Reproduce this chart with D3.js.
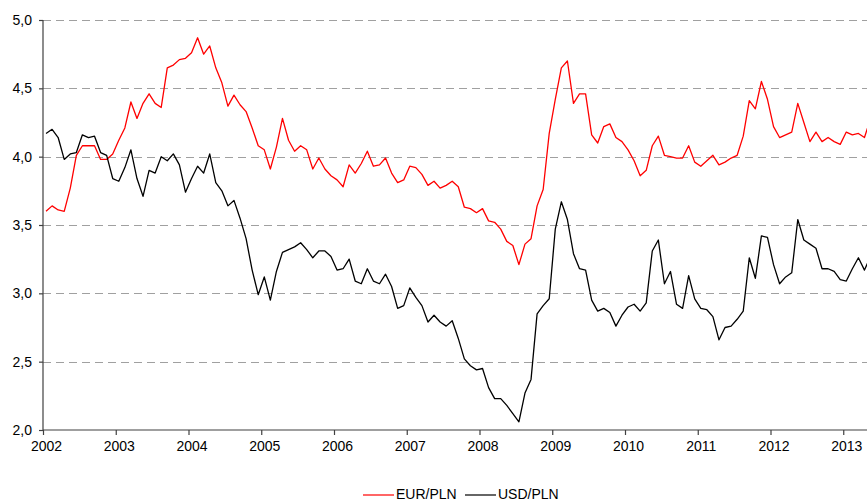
<!DOCTYPE html>
<html lang="pl">
<head>
<meta charset="UTF-8">
<title>EUR/PLN i USD/PLN</title>
<script src="https://d3js.org/d3.v7.min.js"></script>
<style>
    body { margin: 0; background: #fff; }
    svg { display: block; font-family: "Liberation Sans", Arial, sans-serif; }
    .tick text { font-size: 14px; fill: #000; }
</style>
</head>
<body>
<svg id="chart" width="867" height="502"></svg>
<script>
    // monthly averages, starting January 2002
    const startYear = 2002;
    const eurPln = [
        3.60, 3.64, 3.61, 3.60, 3.77, 4.01, 4.08, 4.08, 4.08, 3.98, 3.98, 4.02,
        4.12, 4.21, 4.40, 4.28, 4.39, 4.46, 4.39, 4.36, 4.65, 4.67, 4.71, 4.72,
        4.76, 4.87, 4.75, 4.81, 4.65, 4.54, 4.37, 4.45, 4.38, 4.33, 4.21, 4.08,
        4.05, 3.91, 4.07, 4.28, 4.12, 4.04, 4.08, 4.05, 3.91, 3.99, 3.91, 3.86,
        3.83, 3.78, 3.94, 3.88, 3.95, 4.04, 3.93, 3.94, 3.99, 3.88, 3.81, 3.83,
        3.93, 3.92, 3.87, 3.79, 3.82, 3.77, 3.79, 3.82, 3.78, 3.63, 3.62, 3.59,
        3.62, 3.53, 3.52, 3.47, 3.38, 3.35, 3.21, 3.36, 3.40, 3.64, 3.76, 4.17,
        4.42, 4.65, 4.70, 4.39, 4.46, 4.46, 4.16, 4.10, 4.22, 4.24, 4.14, 4.11,
        4.05, 3.97, 3.86, 3.90, 4.08, 4.15, 4.01, 4.00, 3.99, 3.99, 4.08, 3.96,
        3.93, 3.97, 4.01, 3.94, 3.96, 3.99, 4.01, 4.15, 4.41, 4.35, 4.55, 4.42,
        4.22, 4.14, 4.16, 4.18, 4.39, 4.25, 4.11, 4.18, 4.11, 4.14, 4.11, 4.09,
        4.18, 4.16, 4.17, 4.14, 4.28
    ];
    const usdPln = [
        4.17, 4.20, 4.14, 3.98, 4.02, 4.03, 4.16, 4.14, 4.15, 4.03, 4.01, 3.84,
        3.82, 3.92, 4.05, 3.84, 3.71, 3.90, 3.88, 4.00, 3.97, 4.02, 3.94, 3.74,
        3.84, 3.93, 3.88, 4.02, 3.81, 3.75, 3.64, 3.68, 3.55, 3.40, 3.17, 2.99,
        3.12, 2.95, 3.16, 3.30, 3.32, 3.34, 3.37, 3.32, 3.26, 3.31, 3.31, 3.27,
        3.17, 3.18, 3.25, 3.09, 3.07, 3.18, 3.09, 3.07, 3.14, 3.05, 2.89, 2.91,
        3.04, 2.97, 2.91, 2.79, 2.84, 2.79, 2.76, 2.80, 2.67, 2.52, 2.47, 2.44,
        2.45, 2.31, 2.23, 2.23, 2.18, 2.12, 2.06, 2.27, 2.37, 2.85, 2.91, 2.96,
        3.47, 3.67, 3.54, 3.29, 3.18, 3.17, 2.95, 2.87, 2.89, 2.86, 2.76, 2.84,
        2.90, 2.92, 2.87, 2.93, 3.31, 3.39, 3.07, 3.16, 2.92, 2.89, 3.13, 2.96,
        2.89, 2.88, 2.83, 2.66, 2.75, 2.76, 2.81, 2.87, 3.26, 3.11, 3.42, 3.41,
        3.21, 3.07, 3.12, 3.15, 3.54, 3.39, 3.36, 3.33, 3.18, 3.18, 3.16, 3.10,
        3.09, 3.18, 3.26, 3.17, 3.27
    ];
    const yTicks = [2.0, 2.5, 3.0, 3.5, 4.0, 4.5, 5.0];
    const xTicks = d3.range(2002, 2014);
    const seriesNames = ["EUR/PLN", "USD/PLN"];
    const seriesColors = ["#ff0000", "#000000"];

    const svg = d3.select("#chart");
    const plotLeft = 43, plotRight = 867, plotTop = 20, plotBottom = 430;

    // x is in fractional years; the plot is cut off on the right in April 2013
    const x = d3.scaleLinear()
        .domain([2002, 2002 + (plotRight - plotLeft) / 72.75])
        .range([plotLeft, plotRight]);
    const y = d3.scaleLinear().domain([2, 5]).range([plotBottom, plotTop]);

    const fmt = d => d3.format(".1f")(d).replace(".", ",");

    // dashed grid lines
    svg.append("g")
        .selectAll("line")
        .data(yTicks.filter(d => d > 2))
        .join("line")
        .attr("x1", plotLeft).attr("x2", plotRight)
        .attr("y1", d => Math.round(y(d)) + 0.5).attr("y2", d => Math.round(y(d)) + 0.5)
        .attr("stroke", "#a0a0a0")
        .attr("stroke-dasharray", "8,5");

    // clip the lines to the plot area
    svg.append("clipPath").attr("id", "plot")
        .append("rect")
        .attr("x", plotLeft).attr("y", plotTop)
        .attr("width", plotRight - plotLeft).attr("height", plotBottom - plotTop);

    const line = d3.line()
        .x((d, i) => x(startYear + (i + 0.5) / 12))
        .y(d => y(d));

    svg.append("g")
        .attr("clip-path", "url(#plot)")
        .selectAll("path")
        .data([eurPln, usdPln])
        .join("path")
        .attr("d", line)
        .attr("fill", "none")
        .attr("stroke", (d, i) => seriesColors[i])
        .attr("stroke-width", 1.3)
        .attr("stroke-linejoin", "round");

    // axes
    const yAxis = svg.append("g")
        .attr("transform", `translate(${plotLeft},0)`)
        .call(d3.axisLeft(y).tickValues(yTicks).tickFormat(fmt).tickSize(4).tickPadding(7));
    yAxis.select(".domain").attr("d", `M0,${plotTop}V${plotBottom}`);

    const xAxis = svg.append("g")
        .attr("transform", `translate(0,${plotBottom})`)
        .call(d3.axisBottom(x).tickValues(xTicks).tickFormat(d3.format("d")).tickSize(5).tickPadding(6));
    xAxis.select(".domain").attr("d", `M${plotLeft},0H${plotRight}`);
    xAxis.selectAll(".tick text").attr("dx", 3);

    svg.selectAll(".domain, .tick line")
        .attr("stroke", "#404040")
        .attr("stroke-width", 1.2);

    // legend
    const legendX = [363, 465];
    const legend = svg.append("g")
        .selectAll("g")
        .data(seriesNames)
        .join("g")
        .attr("transform", (d, i) => `translate(${legendX[i]},495)`);
    legend.append("line")
        .attr("x1", 0).attr("x2", 31)
        .attr("stroke", (d, i) => seriesColors[i])
        .attr("stroke-width", 1.2);
    legend.append("text")
        .attr("x", 33).attr("y", 4)
        .attr("font-size", 14)
        .text(d => d);
</script>
</body>
</html>
